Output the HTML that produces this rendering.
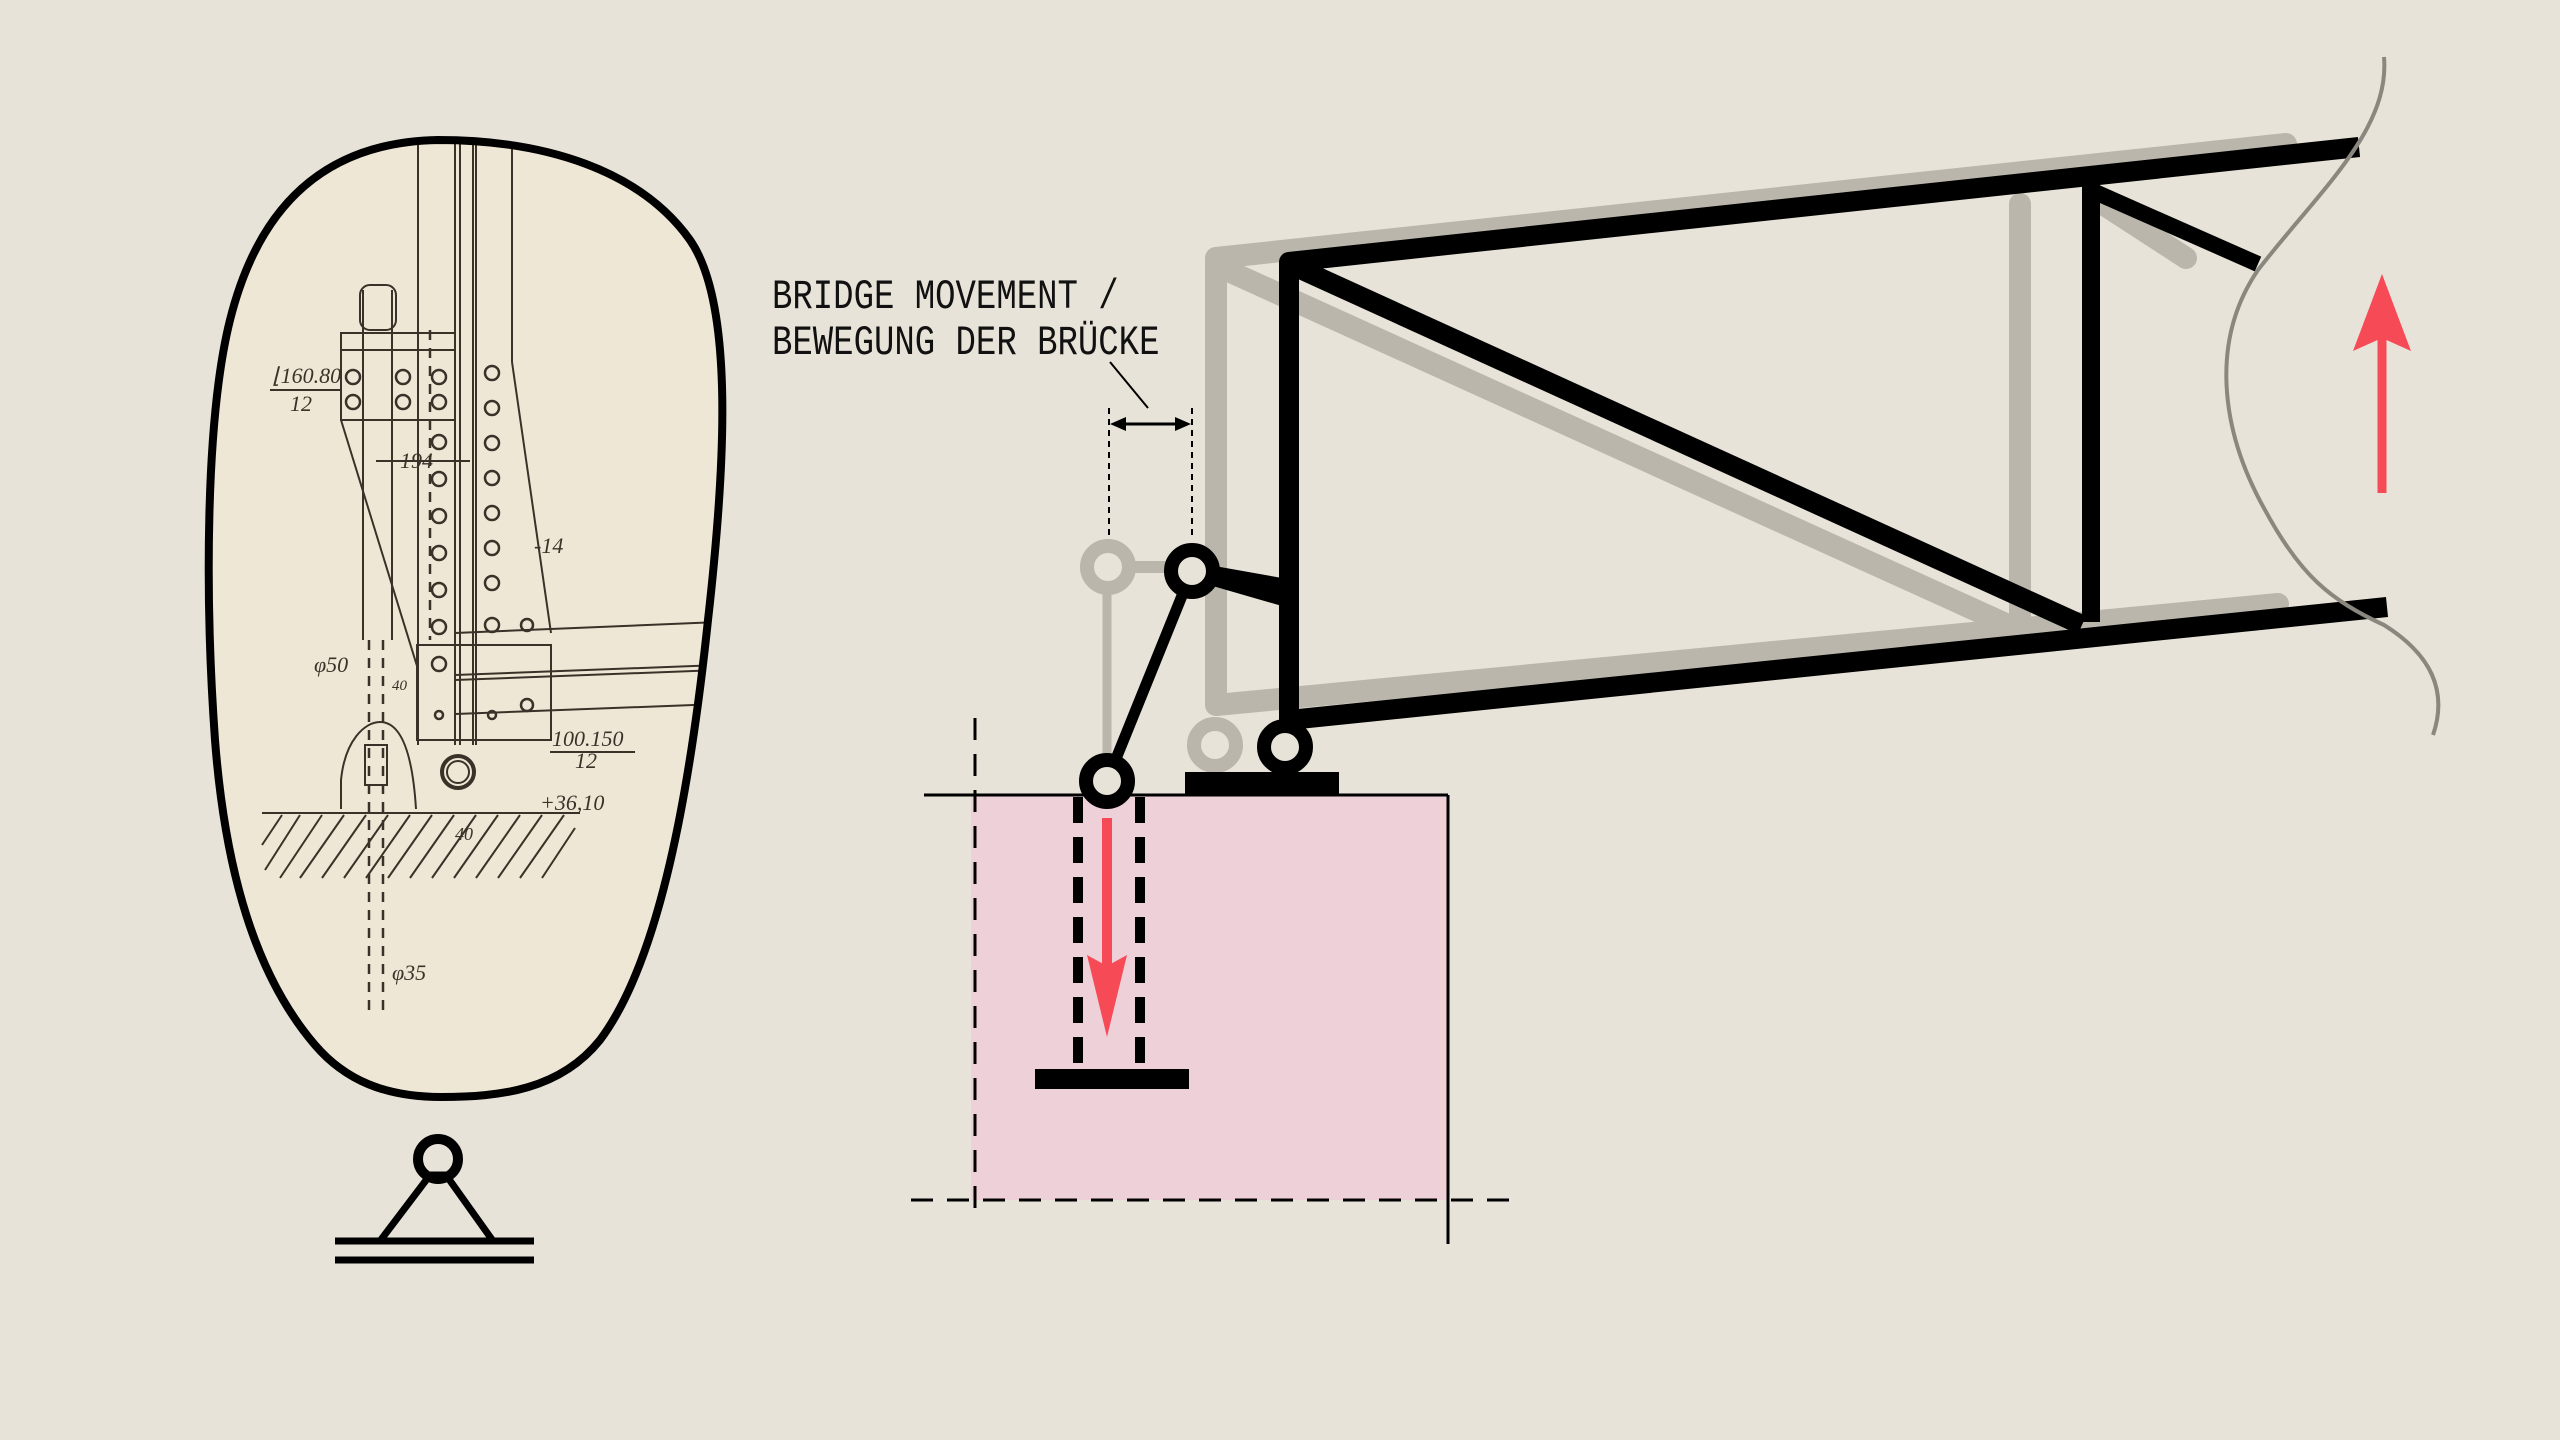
<!DOCTYPE html>
<html><head><meta charset="utf-8"><style>
html,body{margin:0;padding:0;background:#e8e3d8;}
svg{display:block}
</style></head><body>
<svg width="2560" height="1440" viewBox="0 0 2560 1440" xmlns="http://www.w3.org/2000/svg">
<rect width="2560" height="1440" fill="#e8e3d8"/>

<defs>
<clipPath id="blob"><path d="M438,140 C545,140 640,170 690,240 C735,305 725,470 708,620 C690,790 660,960 600,1040 C560,1090 500,1097 441,1097 C385,1097 345,1080 315,1045 C255,975 225,870 215,740 C205,600 205,420 230,320 C260,200 330,142 438,140 Z"/></clipPath>
</defs>
<path d="M438,140 C545,140 640,170 690,240 C735,305 725,470 708,620 C690,790 660,960 600,1040 C560,1090 500,1097 441,1097 C385,1097 345,1080 315,1045 C255,975 225,870 215,740 C205,600 205,420 230,320 C260,200 330,142 438,140 Z" fill="#efe7d6"/>
<g clip-path="url(#blob)" stroke="#3a3128" fill="none" stroke-width="2">
  <line x1="418" y1="140" x2="418" y2="745"/>
  <line x1="455" y1="140" x2="455" y2="745"/>
  <line x1="460" y1="140" x2="460" y2="745"/>
  <line x1="473" y1="140" x2="473" y2="745"/>
  <line x1="476" y1="140" x2="476" y2="745"/>
  <line x1="512" y1="140" x2="512" y2="362"/>
  <rect x="341" y="333" width="114" height="87"/>
  <line x1="341" y1="350" x2="455" y2="350"/>
  <line x1="341" y1="420" x2="417" y2="666"/>
  <line x1="512" y1="362" x2="551" y2="633"/>
  <rect x="417" y="645" width="134" height="95"/>
  <line x1="455" y1="633" x2="720" y2="622"/>
  <line x1="455" y1="675" x2="720" y2="665"/>
  <line x1="455" y1="680" x2="720" y2="670"/>
  <line x1="455" y1="714" x2="720" y2="704"/>
  <g stroke-width="2.5">
    <circle cx="353" cy="377" r="7"/><circle cx="403" cy="377" r="7"/><circle cx="439" cy="377" r="7"/>
    <circle cx="353" cy="402" r="7"/><circle cx="403" cy="402" r="7"/><circle cx="439" cy="402" r="7"/>
    <circle cx="439" cy="442" r="7"/><circle cx="439" cy="479" r="7"/><circle cx="439" cy="516" r="7"/><circle cx="439" cy="553" r="7"/><circle cx="439" cy="590" r="7"/><circle cx="439" cy="627" r="7"/><circle cx="439" cy="664" r="7"/>
    <circle cx="492" cy="373" r="7"/><circle cx="492" cy="408" r="7"/><circle cx="492" cy="443" r="7"/><circle cx="492" cy="478" r="7"/><circle cx="492" cy="513" r="7"/><circle cx="492" cy="548" r="7"/><circle cx="492" cy="583" r="7"/><circle cx="492" cy="625" r="7"/><circle cx="527" cy="625" r="6"/><circle cx="527" cy="705" r="6"/>
    <circle cx="439" cy="715" r="4"/><circle cx="492" cy="715" r="4"/>
  </g>
  <circle cx="458" cy="772" r="16" stroke-width="4"/>
  <circle cx="458" cy="772" r="11"/>
  <path d="M341,809 L341,780 C345,740 365,722 380,722 C398,722 412,745 416,809"/>
  <rect x="365" y="745" width="22" height="40"/>
  <line x1="363" y1="290" x2="363" y2="640"/><line x1="392" y1="290" x2="392" y2="640"/>
  <rect x="360" y="285" width="36" height="45" rx="10"/>
  <line x1="262" y1="813" x2="580" y2="813"/>
  <g stroke-width="2">
    <line x1="262" y1="845" x2="282" y2="815"/><line x1="265" y1="870" x2="300" y2="815"/><line x1="280" y1="878" x2="322" y2="815"/><line x1="300" y1="878" x2="344" y2="815"/><line x1="322" y1="878" x2="366" y2="815"/><line x1="344" y1="878" x2="388" y2="815"/><line x1="366" y1="878" x2="410" y2="815"/><line x1="388" y1="878" x2="432" y2="815"/><line x1="410" y1="878" x2="454" y2="815"/><line x1="432" y1="878" x2="476" y2="815"/><line x1="454" y1="878" x2="498" y2="815"/><line x1="476" y1="878" x2="520" y2="815"/><line x1="498" y1="878" x2="542" y2="815"/><line x1="520" y1="878" x2="564" y2="815"/><line x1="542" y1="878" x2="575" y2="828"/>
  </g>
  <g stroke-dasharray="10,8" stroke-width="2.5"><line x1="369" y1="640" x2="369" y2="1014"/><line x1="383" y1="640" x2="383" y2="1014"/><line x1="430" y1="330" x2="430" y2="640"/></g>
  <line x1="376" y1="461" x2="470" y2="461"/>
</g>
<g font-family="'Liberation Serif',serif" font-style="italic" font-size="22" fill="#3a3128">
  <text x="272" y="383">⌊160.80</text><text x="290" y="411">12</text>
  <line x1="270" y1="390" x2="340" y2="390" stroke="#3a3128" stroke-width="2"/>
  <text x="400" y="468">194</text>
  <text x="534" y="553">-14</text>
  <text x="314" y="672">φ50</text>
  <text x="392" y="690" font-size="15">40</text>
  <text x="552" y="746">100.150</text><text x="575" y="768">12</text>
  <line x1="550" y1="752" x2="635" y2="752" stroke="#3a3128" stroke-width="2"/>
  <text x="540" y="810">+36,10</text>
  <text x="455" y="840" font-size="18">40</text>
  <text x="392" y="980">φ35</text>
</g>
<path d="M438,140 C545,140 640,170 690,240 C735,305 725,470 708,620 C690,790 660,960 600,1040 C560,1090 500,1097 441,1097 C385,1097 345,1080 315,1045 C255,975 225,870 215,740 C205,600 205,420 230,320 C260,200 330,142 438,140 Z" fill="none" stroke="#000" stroke-width="8"/>

<circle cx="438" cy="1159" r="20" fill="none" stroke="#000" stroke-width="10"/>
<polyline points="380,1241 430,1175 446,1175 493,1241" fill="none" stroke="#000" stroke-width="7"/>
<line x1="335" y1="1241" x2="534" y2="1241" stroke="#000" stroke-width="7"/>
<line x1="335" y1="1260" x2="534" y2="1260" stroke="#000" stroke-width="7"/>

<rect x="971" y="795" width="477" height="405" fill="#eed0d8"/>
<line x1="924" y1="795" x2="1448" y2="795" stroke="#000" stroke-width="3"/>
<line x1="1448" y1="795" x2="1448" y2="1244" stroke="#000" stroke-width="3"/>
<line x1="975" y1="718" x2="975" y2="1216" stroke="#000" stroke-width="3" stroke-dasharray="22,14"/>
<line x1="911" y1="1200" x2="1522" y2="1200" stroke="#000" stroke-width="3" stroke-dasharray="22,14"/>
<g stroke="#000" stroke-width="10" stroke-dasharray="26,14"><line x1="1078" y1="797" x2="1078" y2="1070"/><line x1="1140" y1="797" x2="1140" y2="1070"/></g>
<rect x="1035" y="1069" width="154" height="20" fill="#000"/>
<line x1="1107" y1="818" x2="1107" y2="980" stroke="#f64a57" stroke-width="10"/>
<polygon points="1087,955 1107,966 1127,955 1107,1037" fill="#f64a57"/>

<g stroke="#bab6ab" stroke-width="22" stroke-linecap="round" stroke-linejoin="round" fill="none">
  <polyline points="2286,144 1216,258 1216,705 2278,604"/>
  <line x1="1224" y1="269" x2="2008" y2="625"/>
  <line x1="2020" y1="204" x2="2020" y2="620"/>
  <line x1="2106" y1="206" x2="2186" y2="258"/>
</g>
<line x1="1107" y1="567" x2="1192" y2="567" stroke="#bab6ab" stroke-width="12"/>
<line x1="1107" y1="567" x2="1107" y2="780" stroke="#bab6ab" stroke-width="9"/>
<circle cx="1108" cy="567" r="21" fill="#e8e3d8" stroke="#bab6ab" stroke-width="14"/>
<circle cx="1215" cy="745" r="21" fill="#e8e3d8" stroke="#bab6ab" stroke-width="14"/>

<g stroke="#000" stroke-width="20" stroke-linejoin="round" fill="none">
  <polyline points="2359,147 1289,262 1289,731"/>
  <line x1="1289" y1="720" x2="2387" y2="607"/>
  <line x1="1298" y1="268" x2="2082" y2="625"/>
  <line x1="2091" y1="180" x2="2091" y2="622" stroke-width="18"/>
  <line x1="2095" y1="192" x2="2258" y2="264" stroke-width="16"/>
</g>
<rect x="1185" y="772" width="154" height="23" fill="#000"/>
<polygon points="1192,562 1282,578 1282,606 1192,580" fill="#000"/>
<line x1="1107" y1="781" x2="1192" y2="571" stroke="#000" stroke-width="11"/>
<circle cx="1285" cy="747" r="21" fill="#e8e3d8" stroke="#000" stroke-width="14"/>
<circle cx="1192" cy="571" r="21" fill="#e8e3d8" stroke="#000" stroke-width="14"/>
<circle cx="1107" cy="781" r="21" fill="#e8e3d8" stroke="#000" stroke-width="14"/>

<path d="M2384,57 C2390,130 2320,190 2258,270 C2210,340 2220,430 2265,510 C2300,575 2330,600 2384,625 C2440,660 2445,700 2433,735" fill="none" stroke="#8a877f" stroke-width="4"/>

<line x1="2382" y1="493" x2="2382" y2="330" stroke="#f64a57" stroke-width="9"/>
<polygon points="2382,274 2411,351 2382,338 2353,351" fill="#f64a57"/>

<g stroke="#000" stroke-width="2" stroke-dasharray="6,5"><line x1="1109" y1="408" x2="1109" y2="539"/><line x1="1192" y1="408" x2="1192" y2="539"/></g>
<line x1="1115" y1="424" x2="1186" y2="424" stroke="#000" stroke-width="3"/>
<polygon points="1110,424 1126,417 1126,431" fill="#000"/>
<polygon points="1191,424 1175,417 1175,431" fill="#000"/>
<line x1="1110" y1="362" x2="1148" y2="408" stroke="#000" stroke-width="2"/>
<g font-family="'Liberation Mono',monospace" font-size="34" fill="#111">
  <text transform="translate(772,308) scale(1,1.22)">BRIDGE MOVEMENT /</text>
  <text transform="translate(772,354) scale(1,1.22)">BEWEGUNG DER BRÜCKE</text>
</g>
</svg>
</body></html>
